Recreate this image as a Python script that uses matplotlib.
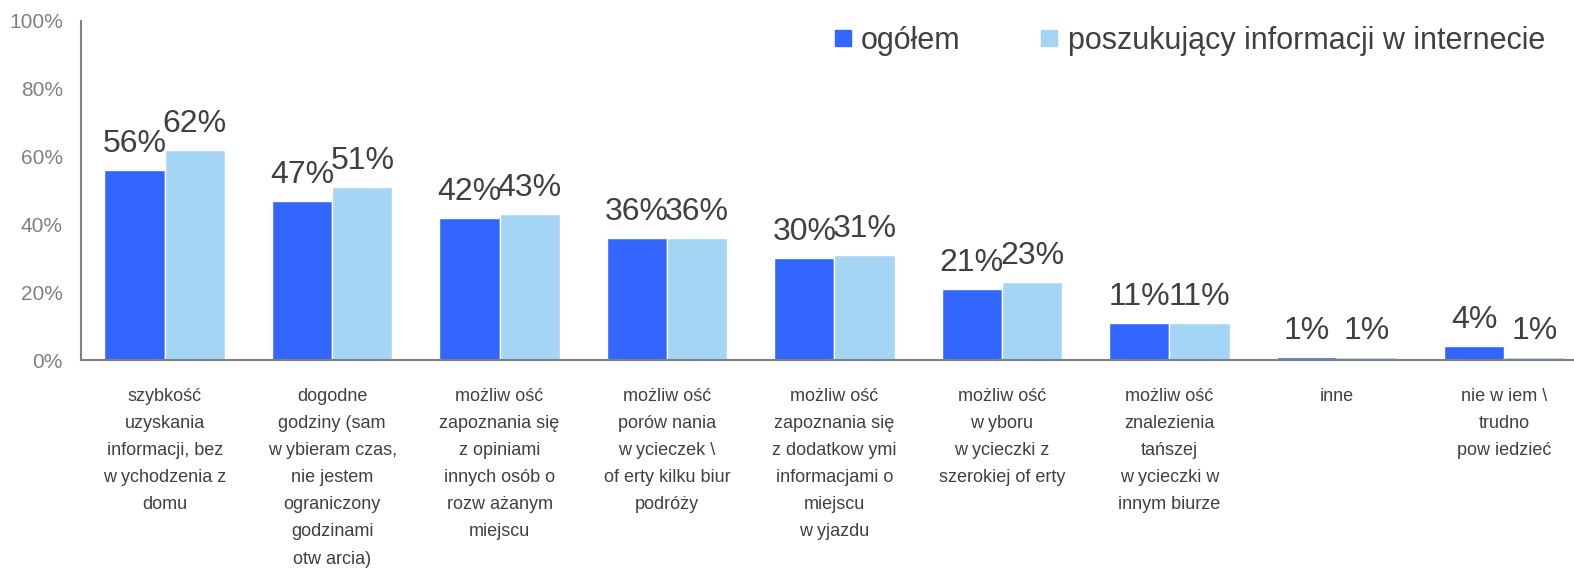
import matplotlib
matplotlib.use("Agg")
import matplotlib.pyplot as plt
from matplotlib.lines import Line2D
import numpy as np

plt.rcParams['font.family'] = ['Liberation Sans', 'DejaVu Sans']

categories = [
    "szybkość\nuzyskania\ninformacji, bez\nw ychodzenia z\ndomu",
    "dogodne\ngodziny (sam\nw ybieram czas,\nnie jestem\nograniczony\ngodzinami\notw arcia)",
    "możliw ość\nzapoznania się\nz opiniami\ninnych osób o\nrozw ażanym\nmiejscu",
    "możliw ość\nporów nania\nw ycieczek \\\nof erty kilku biur\npodróży",
    "możliw ość\nzapoznania się\nz dodatkow ymi\ninformacjami o\nmiejscu\nw yjazdu",
    "możliw ość\nw yboru\nw ycieczki z\nszerokiej of erty",
    "możliw ość\nznalezienia\ntańszej\nw ycieczki w\ninnym biurze",
    "inne",
    "nie w iem \\\ntrudno\npow iedzieć",
]
ogolem = [56, 47, 42, 36, 30, 21, 11, 1, 4]
internet = [62, 51, 43, 36, 31, 23, 11, 1, 1]
series_names = ["ogółem", "poszukujący informacji w internecie"]
colors = ["#3366FF", "#A5D5F5"]

fig = plt.figure(figsize=(15.74, 5.82), dpi=100)
ax = fig.add_axes([81/1574, 1-360/582, 1507/1574, 339/582])

x = np.arange(len(categories))
w = 0.36
b1 = ax.bar(x - 0.18, ogolem, w, color=colors[0], edgecolor="white", linewidth=1)
b2 = ax.bar(x + 0.18, internet, w, color=colors[1], edgecolor="white", linewidth=1)

for bars, vals in [(b1, ogolem), (b2, internet)]:
    for bar, v in zip(bars, vals):
        ax.annotate("%d%%" % v, (bar.get_x() + bar.get_width()/2, bar.get_height()),
                    xytext=(0, 13), textcoords="offset points",
                    ha="center", va="baseline", fontsize=23, color="#404040")

ax.set_xlim(-0.5, 8.5)
ax.set_ylim(0, 100)
ax.set_yticks(range(0, 101, 20))
ax.set_yticklabels(["%d%%" % t for t in range(0, 101, 20)])
ax.set_xticks(x)
ax.set_xticklabels(categories, fontsize=13, color="#404040", linespacing=1.78, va="top")
ax.tick_params(axis="y", length=0, pad=13, labelsize=15, labelcolor="#808080")
ax.tick_params(axis="x", length=0, pad=20)

for s in ["top", "right"]:
    ax.spines[s].set_visible(False)
for s in ["left", "bottom"]:
    ax.spines[s].set_color("#808080")
    ax.spines[s].set_linewidth(1.5)

handles = [Line2D([], [], marker="s", linestyle="none", markersize=11,
                  markerfacecolor=c, markeredgecolor=c) for c in colors]
fig.legend(handles, series_names, loc="center right", bbox_to_anchor=(1545/1574, 1-41/582),
           ncol=2, frameon=False, fontsize=22, labelcolor="#404040",
           handlelength=0.6, handletextpad=0.3, columnspacing=2.6,
           borderpad=0, borderaxespad=0)

fig.savefig("out.png", dpi=100)
